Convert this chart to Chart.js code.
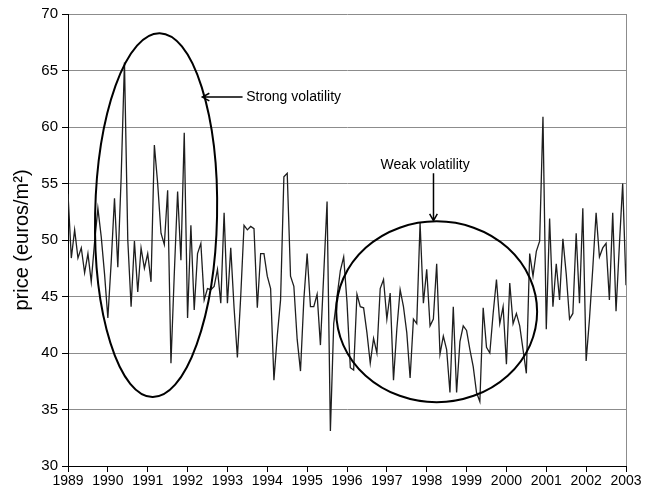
<!DOCTYPE html>
<html>
<head>
<meta charset="utf-8">
<script src="https://cdn.jsdelivr.net/npm/chart.js@4.4.1/dist/chart.umd.min.js"></script>
<style>
  body { margin: 0; background: #fff; }
</style>
</head>
<body>
<canvas id="priceChart" width="654" height="494"></canvas>
<script>
const yearLabels = ["1989", "1990", "1991", "1992", "1993", "1994", "1995", "1996",
  "1997", "1998", "1999", "2000", "2001", "2002", "2003"];
const priceTicks = [30, 35, 40, 45, 50, 55, 60, 65, 70];

// one value per month, Jan 1989 .. Jan 2003
const monthlyPrice = [
  54.1, 48.4, 50.9, 48.4, 49.3, 47.1, 48.8, 46.3, 49.8, 52.8, 50.3, 47.0,
  43.1, 48.0, 53.7, 47.6, 55.5, 65.7, 50.0, 44.1, 49.9, 45.4, 49.3, 47.5,
  48.8, 46.3, 58.4, 55.0, 50.6, 49.6, 54.4, 39.1, 47.0, 54.3, 48.2, 59.5,
  43.1, 51.3, 43.8, 48.8, 49.7, 44.7, 45.7, 45.6, 45.9, 47.4, 44.4, 52.4,
  44.4, 49.3, 44.0, 39.6, 45.0, 51.3, 50.9, 51.2, 51.0, 44.0, 48.8, 48.8,
  46.8, 45.7, 37.6, 41.5, 44.7, 55.6, 55.9, 46.8, 45.9, 41.2, 38.4, 44.7,
  48.8, 44.1, 44.1, 45.2, 40.7, 47.0, 53.4, 33.1, 42.6, 45.0, 47.3, 48.5,
  44.5, 38.7, 38.5, 45.2, 44.1, 44.0, 41.8, 39.1, 41.3, 40.0, 45.7, 46.5,
  43.0, 45.3, 37.6, 42.1, 45.6, 44.1, 41.8, 37.8, 43.0, 42.6, 51.5, 44.4,
  47.4, 42.4, 43.0, 47.9, 39.9, 41.5, 40.3, 36.5, 44.1, 36.5, 41.0, 42.4,
  42.0, 40.3, 38.8, 36.5, 35.7, 44.0, 40.5, 40.0, 43.5, 46.5, 42.6, 44.1,
  39.0, 46.2, 42.6, 43.5, 42.4, 40.3, 38.2, 48.8, 46.8, 49.0, 49.9, 60.9,
  42.1, 51.9, 44.1, 47.9, 44.7, 50.1, 47.0, 43.0, 43.5, 50.6, 44.4, 52.8,
  39.3, 43.0, 47.5, 52.4, 48.5, 49.3, 49.7, 44.7, 52.4, 43.7, 49.5, 55.0,
  46.0,
];

const firstYear = Number(yearLabels[0]);
const lastYear = Number(yearLabels[yearLabels.length - 1]);

// ellipses and notes, placed in (year, price) units
const circles = [
  { year: 1991.21, price: 52.2, halfYears: 1.53, halfPrice: 16.1, tilt: 0.02 },
  { year: 1998.25, price: 43.65, halfYears: 2.52, halfPrice: 8.0, tilt: 0 },
];
const notes = [
  { text: "Strong volatility", year: 1993.47, price: 62.65,
    arrowFrom: [1993.38, 62.65], arrowTo: [1992.37, 62.65] },
  { text: "Weak volatility", year: 1996.84, price: 56.65,
    arrowFrom: [1998.17, 55.9], arrowTo: [1998.17, 51.7] },
];

const labelFont = '"Liberation Sans", Arial, sans-serif';

function drawArrow(ctx, x1, y1, x2, y2) {
  const angle = Math.atan2(y2 - y1, x2 - x1);
  const head = 8;
  ctx.beginPath();
  ctx.moveTo(x1, y1);
  ctx.lineTo(x2, y2);
  ctx.moveTo(x2 - head * Math.cos(angle - 0.5), y2 - head * Math.sin(angle - 0.5));
  ctx.lineTo(x2, y2);
  ctx.lineTo(x2 - head * Math.cos(angle + 0.5), y2 - head * Math.sin(angle + 0.5));
  ctx.stroke();
}

const volatilityMarks = {
  id: "volatilityMarks",
  afterDatasetsDraw(chart) {
    const { ctx, chartArea, scales: { x, y } } = chart;
    ctx.save();

    // right frame line
    ctx.strokeStyle = "#8c8c8c";
    ctx.lineWidth = 1;
    ctx.beginPath();
    ctx.moveTo(chartArea.right + 0.5, chartArea.top);
    ctx.lineTo(chartArea.right + 0.5, chartArea.bottom);
    ctx.stroke();

    ctx.strokeStyle = "#000";
    ctx.lineWidth = 2;
    circles.forEach((c) => {
      const cx = x.getPixelForValue(c.year);
      const cy = y.getPixelForValue(c.price);
      const rx = x.getPixelForValue(c.year + c.halfYears) - cx;
      const ry = cy - y.getPixelForValue(c.price + c.halfPrice);
      ctx.beginPath();
      ctx.ellipse(cx, cy, rx, ry, c.tilt, 0, Math.PI * 2);
      ctx.stroke();
    });

    ctx.lineWidth = 1.5;
    ctx.fillStyle = "#000";
    ctx.font = "14px " + labelFont;
    ctx.textBaseline = "middle";
    ctx.textAlign = "left";
    notes.forEach((n) => {
      ctx.fillText(n.text, x.getPixelForValue(n.year), y.getPixelForValue(n.price));
      drawArrow(
        ctx,
        x.getPixelForValue(n.arrowFrom[0]), y.getPixelForValue(n.arrowFrom[1]),
        x.getPixelForValue(n.arrowTo[0]), y.getPixelForValue(n.arrowTo[1])
      );
    });
    ctx.restore();
  },
};

const ctx = document.getElementById("priceChart").getContext("2d");
new Chart(ctx, {
  type: "line",
  data: {
    datasets: [
      {
        data: monthlyPrice.map((v, i) => ({ x: firstYear + i / 12, y: v })),
        borderColor: "#1e1e1e",
        borderWidth: 1.3,
        pointRadius: 0,
        tension: 0,
      },
    ],
  },
  options: {
    responsive: false,
    animation: false,
    layout: { padding: { left: 0, top: 14, right: 28, bottom: 0 } },
    plugins: { legend: { display: false }, tooltip: { enabled: false } },
    scales: {
      x: {
        type: "linear",
        min: firstYear,
        max: lastYear,
        afterFit: (scale) => { scale.height = 28; },
        afterBuildTicks: (scale) => {
          scale.ticks = yearLabels.map((yr) => ({ value: Number(yr) }));
        },
        ticks: {
          color: "#000",
          font: { family: labelFont, size: 14 },
          padding: 1,
          maxRotation: 0,
          autoSkip: false,
          callback: (v) => String(v),
        },
        grid: { drawOnChartArea: false, color: "#000", tickLength: 6 },
        border: { color: "#000", width: 1 },
      },
      y: {
        min: priceTicks[0],
        max: priceTicks[priceTicks.length - 1],
        afterFit: (scale) => { scale.width = 68; },
        afterBuildTicks: (scale) => {
          scale.ticks = priceTicks.map((p) => ({ value: p }));
        },
        ticks: {
          color: "#000",
          font: { family: labelFont, size: 15 },
          padding: 4,
        },
        grid: { color: "#8c8c8c", tickColor: "#000", tickLength: 6 },
        border: { color: "#000", width: 1 },
        title: {
          display: true,
          text: "price (euros/m²)",
          color: "#000",
          font: { family: labelFont, size: 20 },
          padding: { top: 10, bottom: 0 },
        },
      },
    },
  },
  plugins: [volatilityMarks],
});
</script>
</body>
</html>
